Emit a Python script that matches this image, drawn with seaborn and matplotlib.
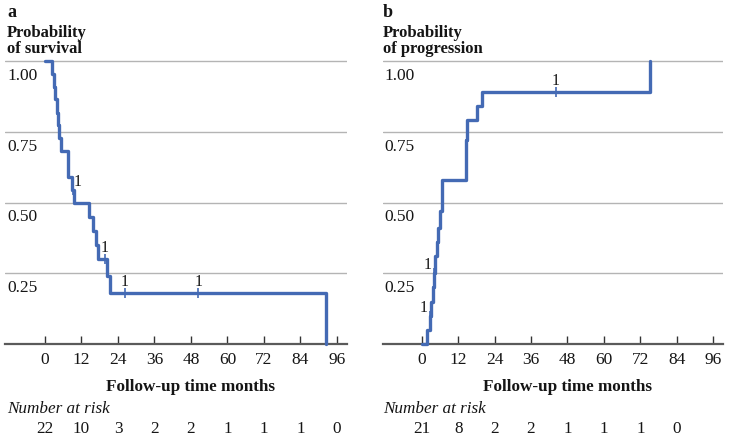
import pandas as pd
import matplotlib.pyplot as plt
import matplotlib.transforms as mtransforms
import seaborn as sns

# Panel a: survival curve (Kaplan-Meier steps)
surv_time = [0, 2.2, 3.0, 3.4, 3.8, 4.2, 4.6, 5.2, 7.5, 9.0, 9.5,
             14.6, 15.7, 16.7, 17.3, 20.5, 21.4, 92.3]
surv_prob = [1.0, 0.955, 0.909, 0.864, 0.818, 0.773, 0.727, 0.682, 0.591, 0.545, 0.5,
             0.45, 0.40, 0.35, 0.30, 0.24, 0.18, 0.0]
surv_cens_time = [9.1, 19.7, 26.3, 50.4]
surv_cens_prob = [0.545, 0.30, 0.18, 0.18]
surv_cens_side = ['r', 'c', 'c', 'c']
surv_risk = [22, 10, 3, 2, 2, 1, 1, 1, 0]

# Panel b: progression curve
prog_time = [0, 1.9, 2.7, 3.2, 3.6, 4.0, 4.5, 5.0, 5.4, 6.1, 6.7,
             14.5, 15.0, 18.3, 20.0, 75.2]
prog_prob = [0.0, 0.05, 0.10, 0.15, 0.20, 0.25, 0.31, 0.36, 0.41, 0.47, 0.58,
             0.72, 0.79, 0.84, 0.89, 1.0]
prog_cens_time = [2.8, 4.1, 44.1]
prog_cens_prob = [0.10, 0.25, 0.89]
prog_cens_side = ['l', 'l', 'c']
prog_risk = [21, 8, 2, 2, 1, 1, 1, 0]

x_ticks = [0, 12, 24, 36, 48, 60, 72, 84, 96]
y_grid = [0.25, 0.50, 0.75, 1.00]

sns.set_style('white')
plt.rcParams['font.family'] = ['Liberation Serif', 'DejaVu Serif']

BLUE = '#446ab4'
INK = '#151515'
W, H = 729, 439
fig = plt.figure(figsize=(W / 100, H / 100), dpi=100)

label_offset = {'r': (1.5, 0.03), 'c': (0, 0.042), 'l': (-2.3, 0.032)}


def draw_panel(ax, letter, ylabel, times, probs, c_time, c_prob, c_side, risk, xlim, left_px):
    df = pd.DataFrame({'t': times, 'p': probs})
    sns.lineplot(data=df, x='t', y='p', drawstyle='steps-post', estimator=None, sort=False,
                 color=BLUE, lw=2.4, ax=ax, zorder=3, clip_on=False)
    cens = pd.DataFrame({'t': c_time, 'p': c_prob})
    sns.scatterplot(data=cens, x='t', y='p', marker='|', s=60, linewidth=1.2,
                    color=BLUE, ax=ax, zorder=4, clip_on=False)
    for t, p, side in zip(c_time, c_prob, c_side):
        dx, dy = label_offset[side]
        ax.text(t + dx, p + dy, '1', ha='center', va='center', fontsize=11.5, color=INK)

    for v in y_grid:
        ax.axhline(v, color='#b4b4b4', lw=1, zorder=0)
        ax.text(0.006, v - 0.021, f'{v:.2f}', transform=ax.get_yaxis_transform(),
                ha='left', va='top', fontsize=12.5, color=INK)

    ax.set_xlim(*xlim)
    ax.set_ylim(0, 1.05)
    ax.set_yticks([])
    ax.set_xticks(x_ticks)
    ax.set_xticklabels([str(x) for x in x_ticks], fontsize=12.5, color=INK)
    ax.tick_params(axis='x', direction='in', length=6, width=1, color='#333333', pad=5, bottom=True)
    ax.set_xlabel('')
    ax.set_ylabel('')
    for s in ['left', 'top', 'right']:
        ax.spines[s].set_visible(False)
    ax.spines['bottom'].set_color('#5a5a5a')
    ax.spines['bottom'].set_linewidth(1.6)

    fig.text(left_px / W, 1 - 17 / H, letter, fontsize=13, weight='bold', va='baseline', color=INK)
    fig.text(left_px / W, 1 - 37 / H, 'Probability', fontsize=12, weight='bold', va='baseline', color=INK)
    fig.text(left_px / W, 1 - 53 / H, ylabel, fontsize=12, weight='bold', va='baseline', color=INK)

    trans = mtransforms.blended_transform_factory(ax.transData, fig.transFigure)
    ax.text(48, 1 - 391 / H, 'Follow-up time months', transform=trans, ha='center',
            va='baseline', fontsize=12.3, weight='bold', color=INK)
    fig.text(left_px / W, 1 - 413 / H, 'Number at risk', fontsize=12.3, style='italic',
             va='baseline', color=INK)
    for x, n in zip(x_ticks, risk):
        ax.text(x, 1 - 433 / H, str(n), transform=trans, ha='center', va='baseline',
                fontsize=12.3, color=INK)


ax_a = fig.add_axes([5 / W, (H - 345) / H, 342 / W, 1.05 * 283 / H])
draw_panel(ax_a, 'a', 'of survival', surv_time, surv_prob, surv_cens_time, surv_cens_prob,
           surv_cens_side, surv_risk, (-13.15, 99.3), 7)

ax_b = fig.add_axes([382.7 / W, (H - 345) / H, 340 / W, 1.05 * 283 / H])
draw_panel(ax_b, 'b', 'of progression', prog_time, prog_prob, prog_cens_time, prog_cens_prob,
           prog_cens_side, prog_risk, (-12.84, 99.1), 383)

fig.savefig('out.png', dpi=100)
